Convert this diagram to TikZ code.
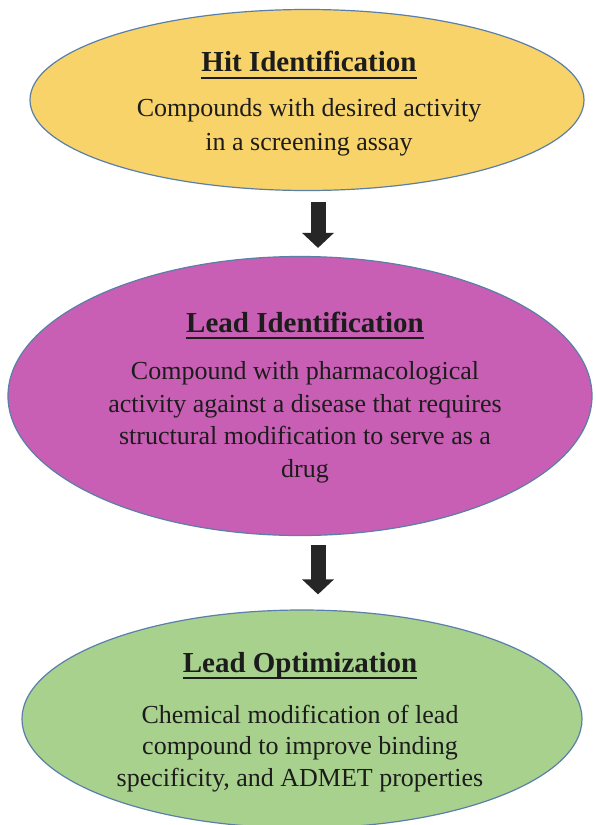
\documentclass[tikz,border=0pt]{standalone}
\usepackage{fontspec}
\setmainfont{Liberation Serif}
\usetikzlibrary{shapes.geometric,arrows.meta}

\definecolor{hitfill}{HTML}{F8D36A}
\definecolor{leadfill}{HTML}{C95FB4}
\definecolor{optfill}{HTML}{A9D18E}
\definecolor{rim}{HTML}{5A7FA8}
\definecolor{ink}{HTML}{1C1C1C}
\definecolor{arrowink}{HTML}{262626}

\tikzset{
  stage/.style={ellipse, draw=rim, line width=1.2pt, inner sep=0pt},
  heading/.style={font=\fontsize{29}{34}\selectfont\bfseries, text=ink, inner sep=0pt, anchor=base},
  % multi-line text: the base anchor sits on the last line's baseline
  body/.style={font=\fontsize{26}{#1}\selectfont, text=ink, inner sep=0pt, align=center, anchor=base},
  flow/.style={draw=arrowink, line width=15pt, -{Triangle[width=31pt,length=15pt]}},
  uline/.style={line width=2.4pt, draw=ink}
}

\begin{document}
\begin{tikzpicture}[x=1pt, y=-1pt]
  \path[fill=white, use as bounding box] (0,0) rectangle (596,825);

  % stage ellipses
  \node[stage, fill=hitfill, minimum width=554pt, minimum height=181pt] (hit) at (307,100) {};
  \node[stage, fill=leadfill, minimum width=584pt, minimum height=279pt] (lead) at (300,396) {};
  \node[stage, fill=optfill, minimum width=560pt, minimum height=218pt] (opt) at (302,719) {};

  % headings with underlines
  \node[heading] (hitT) at (309,71) {Hit Identification};
  \draw[uline] ([yshift=-7pt]hitT.base west) -- ([yshift=-7pt]hitT.base east);
  \node[heading] (leadT) at (305,332) {Lead Identification};
  \draw[uline] ([yshift=-6pt]leadT.base west) -- ([yshift=-6pt]leadT.base east);
  \node[heading] (optT) at (300,672) {Lead Optimization};
  \draw[uline] ([yshift=-6pt]optT.base west) -- ([yshift=-6pt]optT.base east);

  % descriptions
  \node[body=34] (hitB) at (309,150) {Compounds with desired activity\\in a screening assay};
  \node[body=32.5] (leadB) at (305,477) {Compound with pharmacological\\activity against a disease that requires\\structural modification to serve as a\\drug};
  \node[body=31.5] (optB) at (300,786) {Chemical modification of lead\\compound to improve binding\\specificity, and ADMET properties};

  % connectors
  \coordinate (ax) at (318,0);
  \draw[flow, shorten <=11pt, shorten >=8pt] (hit.south -| ax) -- (lead.north -| ax);
  \draw[flow, shorten <=9pt, shorten >=15pt] (lead.south -| ax) -- (opt.north -| ax);
\end{tikzpicture}
\end{document}
